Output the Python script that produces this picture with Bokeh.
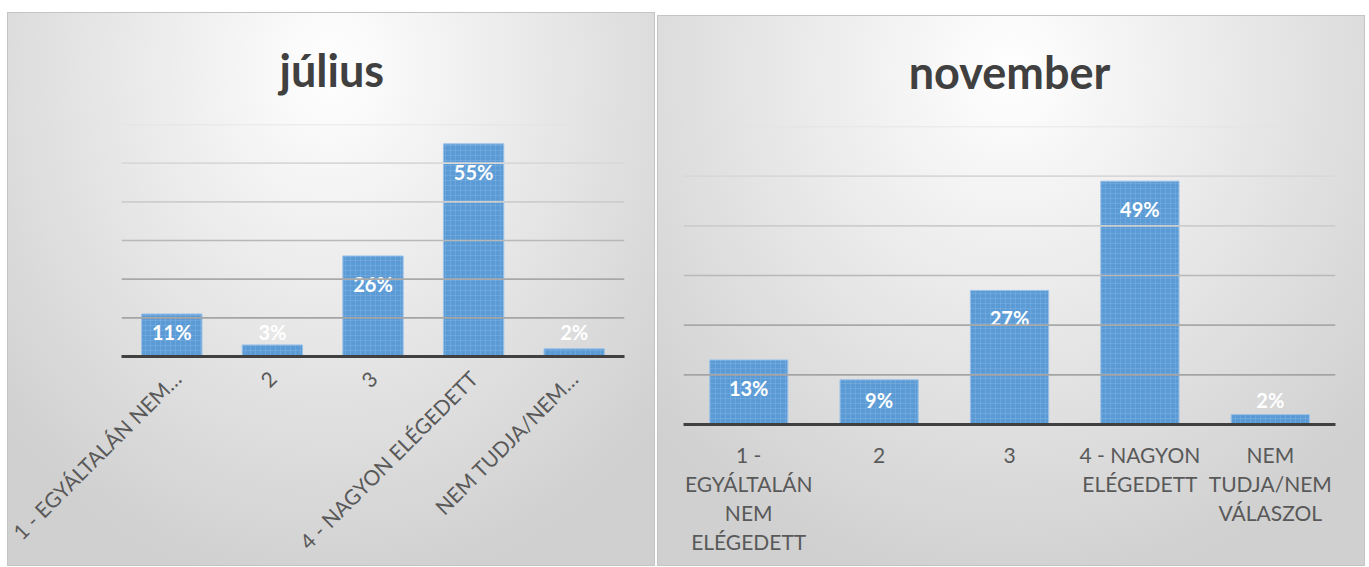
import math
from bokeh.plotting import figure
from bokeh.models import ColumnDataSource, FactorRange, Range1d, Span
from bokeh.core.properties import value
from bokeh.embed import file_html
from bokeh.resources import INLINE

# ---- data ----
categories = ["1 - EGYÁLTALÁN NEM ELÉGEDETT", "2", "3", "4 - NAGYON ELÉGEDETT", "NEM TUDJA/NEM VÁLASZOL"]
july_tick_labels = ["1 - EGYÁLTALÁN NEM…", "2", "3", "4 - NAGYON ELÉGEDETT", "NEM TUDJA/NEM…"]
nov_tick_labels = ["1 -\nEGYÁLTALÁN\nNEM\nELÉGEDETT", "2", "3", "4 - NAGYON\nELÉGEDETT", "NEM\nTUDJA/NEM\nVÁLASZOL"]
july_values = [11, 3, 26, 55, 2]
nov_values = [13, 9, 27, 49, 2]
grid_ticks = [10, 20, 30, 40, 50, 60]
y_max = 60

FONT = "Lato"
BAR = "#5b9bd5"
GRID_COLORS = ["#a4a4a4", "#a8a8a8", "#b8b8b8", "#cdcdcd", "#d8d8d8", "#e2e2e2"]


def panel(title, vals, tick_labels, width, height, left, right, top, frame_h,
          orientation, label_standoff, title_align, title_offset, title_standoff):
    bottom = height - top - frame_h
    p = figure(x_range=FactorRange(factors=tick_labels), y_range=Range1d(0, y_max),
               width=width, height=height, output_backend="svg", toolbar_location=None,
               min_border_left=left, min_border_right=right, min_border_top=top,
               min_border_bottom=bottom)
    p.border_fill_alpha = 0
    p.background_fill_alpha = 0
    p.outline_line_color = None
    p.xgrid.visible = False
    p.ygrid.visible = False
    p.yaxis.visible = False
    p.styles = {
        "background-image": "radial-gradient(ellipse 68% 95% at 50% 10%, #ffffff 0%, #f3f3f3 25%, #d0d0d0 100%)",
        "outline": "1px solid #c4c4c4",
        "outline-offset": "-1px",
    }

    for t, c in zip(grid_ticks, GRID_COLORS):
        p.add_layout(Span(location=t, dimension="width", line_color=c, line_width=1.6))

    ppu = frame_h / y_max
    label_y = [max(v - 28 / ppu, 25 / ppu) for v in vals]
    src = ColumnDataSource(dict(x=tick_labels, top=vals, ly=label_y,
                                txt=[f"{v}%" for v in vals]))
    p.vbar(x="x", top="top", bottom=0, width=0.6, source=src, fill_color=BAR,
           line_color="#9cc2e8", line_width=1,
           hatch_pattern="+", hatch_color="#8ab8e6", hatch_alpha=0.35,
           hatch_scale=5, hatch_weight=1)
    p.text(x="x", y="ly", text="txt", source=src, text_align="center",
           text_baseline="middle", text_color="white", text_font=value(FONT),
           text_font_style="bold", text_font_size="20px")

    ax = p.xaxis[0]
    ax.axis_line_width = 3
    ax.axis_line_color = "#404040"
    ax.major_tick_line_color = None
    ax.minor_tick_line_color = None
    ax.major_label_text_font = FONT
    ax.major_label_text_font_size = "21px"
    ax.major_label_text_color = "#595959"
    ax.major_label_text_line_height = 1.16
    ax.major_label_orientation = orientation
    ax.major_label_standoff = label_standoff

    p.title.text = title
    p.title.text_font = FONT
    p.title.text_font_style = "bold"
    p.title.text_font_size = "45px"
    p.title.text_color = "#404040"
    p.title.align = title_align
    p.title.offset = title_offset
    p.title.standoff = title_standoff
    return p


p1 = panel("július", july_values, july_tick_labels, 648, 554, 114, 31, 112, 232,
           math.pi / 4, 12, "left", 158, 56)
p2 = panel("november", nov_values, nov_tick_labels, 708, 551, 26, 30, 111, 298,
           "horizontal", 11, "center", 0, 55)
p1.margin = (12, 0, 0, 7)
p2.margin = (15, 0, 0, 2)

TEMPLATE = """{% block postamble %}<style>body { display: flex !important; flex-direction: row; align-items: flex-start; }</style>{% endblock %}
"""

open("out.html", "w").write(file_html([p1, p2], INLINE, template=TEMPLATE))
